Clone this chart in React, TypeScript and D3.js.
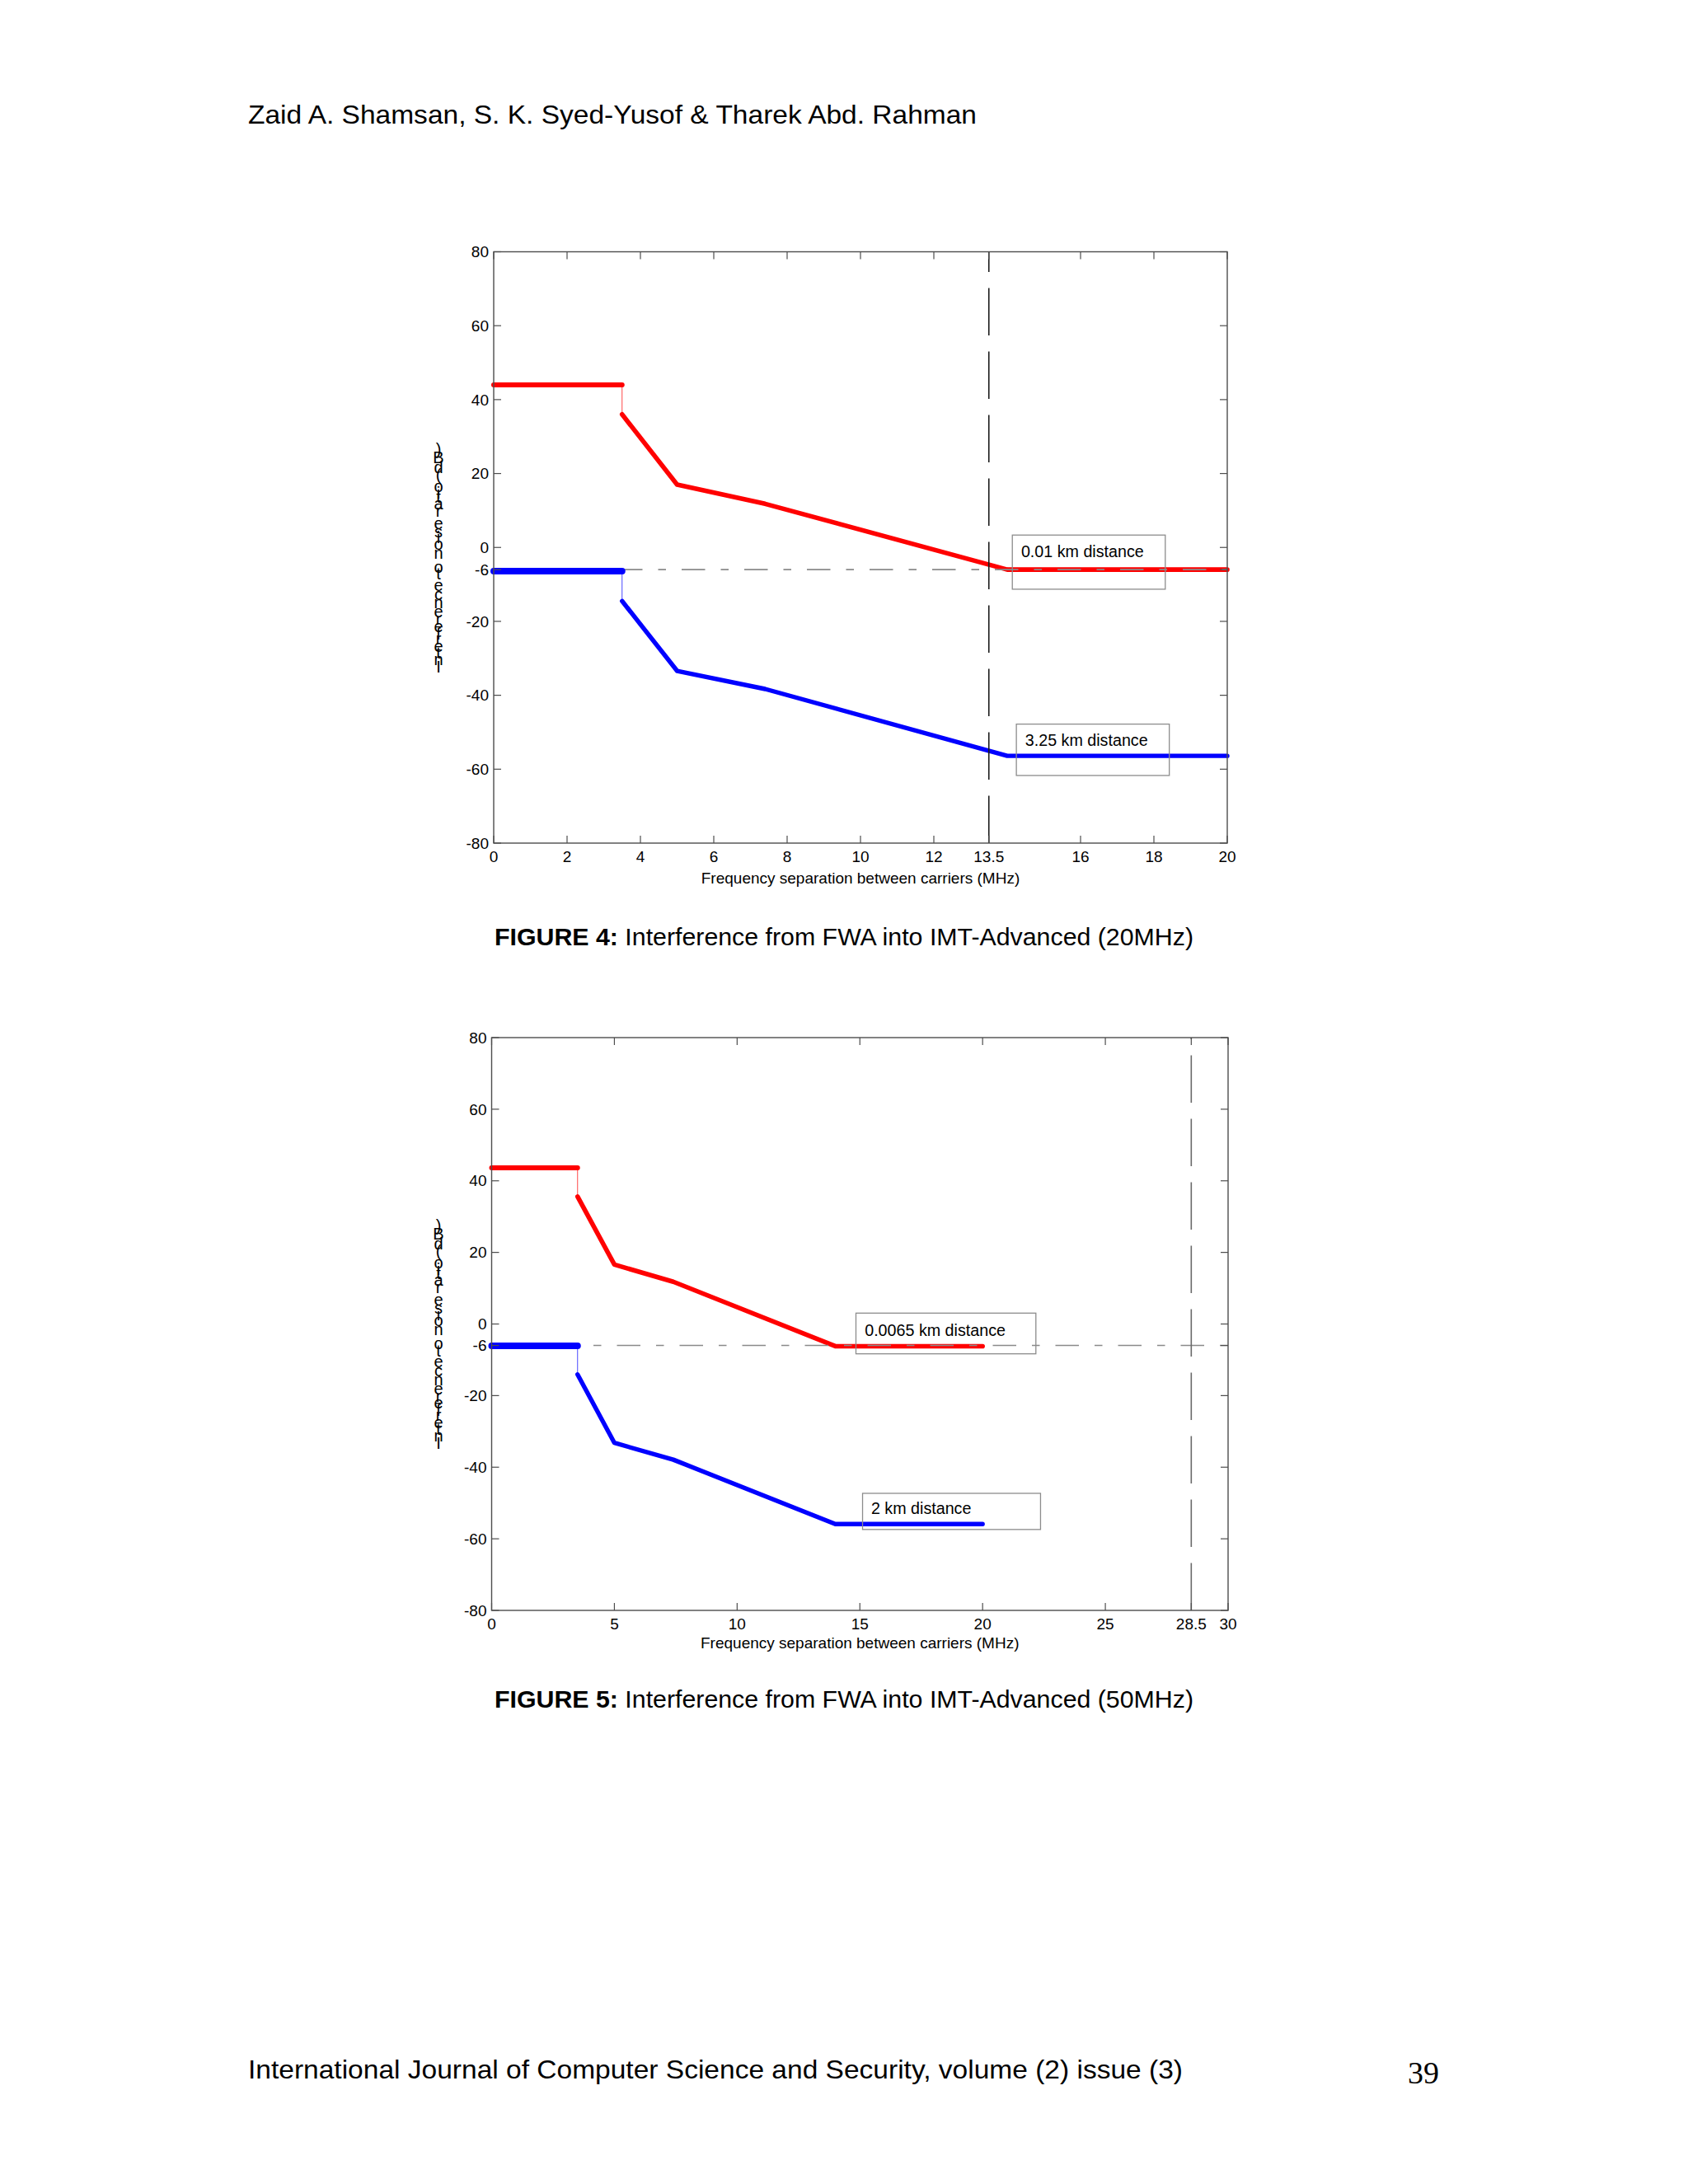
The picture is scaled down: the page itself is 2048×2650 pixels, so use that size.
import React, { useMemo } from 'react';
import * as d3 from 'd3';

const SANS = "'Liberation Sans', Arial, Helvetica, sans-serif";
const SERIF = "'Liberation Serif', 'Times New Roman', serif";

// ---- shared ----
const yTicks = [-80, -60, -40, -20, -6, 0, 20, 40, 60, 80];
const threshold = -6;
const yLabelText = 'Interference to noise ratio (dB)';
const xLabelText = 'Frequency separation between carriers (MHz)';

// ---- Figure 4 (20 MHz) ----
const fig4XTicks = [0, 2, 4, 6, 8, 10, 12, 13.5, 16, 18, 20];
const fig4StepX = [0, 3.5];
const fig4RedStep = [44, 44];
const fig4BlueStep = [-6.4, -6.4];
const fig4SlopeX = [3.5, 5, 7.4, 14, 20];
const fig4RedSlope = [36, 17, 11.8, -6, -6];
const fig4BlueSlope = [-14.5, -33.4, -38.3, -56.4, -56.4];
const fig4Limit = 13.5;
const fig4Labels = ['0.01 km distance', '3.25 km distance'];

// ---- Figure 5 (50 MHz) ----
const fig5XTicks = [0, 5, 10, 15, 20, 25, 28.5, 30];
const fig5StepX = [0, 3.5];
const fig5RedStep = [43.6, 43.6];
const fig5BlueStep = [-6.1, -6.1];
const fig5SlopeX = [3.5, 5, 7.4, 14, 20];
const fig5RedSlope = [35.6, 16.6, 11.8, -6.2, -6.2];
const fig5BlueSlope = [-14.1, -33.2, -37.9, -55.9, -55.9];
const fig5Limit = 28.5;
const fig5Labels = ['0.0065 km distance', '2 km distance'];

type BoxSpec = { text: string; x0: number; x1: number; yTop: number; yBot: number; tx: number; ty: number };

const RED = '#ff0000';
const BLUE = '#0000ff';

function measureChars(str: string, font: string): number[] {
  const ctx = document.createElement('canvas').getContext('2d');
  if (!ctx) return str.split('').map(() => 10);
  ctx.font = font;
  return str.split('').map((ch) => ctx.measureText(ch).width);
}

// The original y-label is rendered as stacked upright glyphs (a garbled rotated label);
// draw it as one text element with per-glyph positions.
function GarbledLabel({ x, cy, text, size }: { x: number; cy: number; text: string; size: number }) {
  const widths = useMemo(() => measureChars(text, `${size}px 'Liberation Sans'`), [text, size]);
  const total = widths.reduce((a, b) => a + b, 0);
  const yBottom = cy + total / 2;
  const xs: number[] = [];
  const ys: number[] = [];
  let cum = 0;
  text.split('').forEach((_, i) => {
    const w = widths[i];
    xs.push(x);
    ys.push(yBottom - cum - w / 2 + size * 0.35);
    cum += w;
  });
  return (
    <text x={xs.join(' ')} y={ys.map((v) => v.toFixed(2)).join(' ')} textAnchor="middle" fontFamily={SANS}
      fontSize={size} fill="#000" style={{ whiteSpace: 'pre' }}>
      {text}
    </text>
  );
}

type ChartProps = {
  left: number; right: number; top: number; bottom: number;
  xMax: number; xTicks: number[];
  stepX: number[]; redStep: number[]; blueStep: number[];
  slopeX: number[]; redSlope: number[]; blueSlope: number[];
  limitX: number; limitColor: string;
  boxes: BoxSpec[];
  titleGap: number;
};

function Chart(p: ChartProps) {
  const x = d3.scaleLinear().domain([0, p.xMax]).range([p.left, p.right]);
  const y = d3.scaleLinear().domain([-80, 80]).range([p.bottom, p.top]);
  const line = d3.line<[number, number]>().x((d) => x(d[0])).y((d) => y(d[1]));
  const zip = (xs: number[], ys: number[]) => xs.map((v, i) => [v, ys[i]] as [number, number]);

  const redStepD = line(zip(p.stepX, p.redStep)) || '';
  const redSlopeD = line(zip(p.slopeX, p.redSlope)) || '';
  const blueStepD = line(zip(p.stepX, p.blueStep)) || '';
  const blueSlopeD = line(zip(p.slopeX, p.blueSlope)) || '';
  const redConn = line([[p.stepX[1], p.redStep[1]], [p.slopeX[0], p.redSlope[0]]]) || '';
  const blueConn = line([[p.stepX[1], p.blueStep[1]], [p.slopeX[0], p.blueSlope[0]]]) || '';
  const tickLen = 9;
  const axisColor = '#4d4d4d';
  const cx = (p.left + p.right) / 2;

  return (
    <g>
      <rect x={p.left} y={p.top} width={p.right - p.left} height={p.bottom - p.top} fill="#fff" />
      {/* red */}
      <path d={redConn} stroke="#ff4a4a" strokeWidth={1} fill="none" />
      <path d={redStepD} stroke={RED} strokeWidth={6} fill="none" strokeLinecap="round" strokeLinejoin="round" />
      <path d={redSlopeD} stroke={RED} strokeWidth={5.6} fill="none" strokeLinecap="round" strokeLinejoin="round" />
      {/* threshold dash-dot */}
      <line x1={x(0)} x2={x(p.xMax)} y1={y(threshold)} y2={y(threshold)} stroke="#8a8a8a" strokeWidth={1.6}
        strokeDasharray="28.5 19 9.5 19" />
      {/* blue */}
      <path d={blueConn} stroke="#4a4aff" strokeWidth={1} fill="none" />
      <path d={blueStepD} stroke={BLUE} strokeWidth={8} fill="none" strokeLinecap="round" strokeLinejoin="round" />
      <path d={blueSlopeD} stroke={BLUE} strokeWidth={5.4} fill="none" strokeLinecap="round" strokeLinejoin="round" />
      {/* limit vertical dashed line, pattern from bottom */}
      <line x1={x(p.limitX)} x2={x(p.limitX)} y1={p.bottom} y2={p.top} stroke={p.limitColor} strokeWidth={1.6}
        strokeDasharray="57.5 19.5" />
      {/* label boxes */}
      {p.boxes.map((b, i) => (
        <g key={i}>
          <rect x={x(b.x0)} y={y(b.yTop)} width={x(b.x1) - x(b.x0)} height={y(b.yBot) - y(b.yTop)}
            fill="none" stroke="#8c8c8c" strokeWidth={1.3} />
          <text x={x(b.tx)} y={y(b.ty)} fontFamily={SANS} fontSize={19.7} fill="#000">{b.text}</text>
        </g>
      ))}
      {/* axes box */}
      <rect x={p.left} y={p.top} width={p.right - p.left} height={p.bottom - p.top} fill="none"
        stroke={axisColor} strokeWidth={1.4} />
      {p.xTicks.map((t) => (
        <g key={'x' + t}>
          <line x1={x(t)} x2={x(t)} y1={p.bottom} y2={p.bottom - tickLen} stroke={axisColor} strokeWidth={1.2} />
          <line x1={x(t)} x2={x(t)} y1={p.top} y2={p.top + tickLen} stroke={axisColor} strokeWidth={1.2} />
          <text x={x(t)} y={p.bottom + 23} textAnchor="middle" fontFamily={SANS} fontSize={19} fill="#000">{String(t)}</text>
        </g>
      ))}
      {yTicks.map((t) => (
        <g key={'y' + t}>
          <line x1={p.left} x2={p.left + tickLen} y1={y(t)} y2={y(t)} stroke={axisColor} strokeWidth={1.2} />
          <line x1={p.right} x2={p.right - tickLen} y1={y(t)} y2={y(t)} stroke={axisColor} strokeWidth={1.2} />
          <text x={p.left - 6} y={y(t)} dy="0.35em" textAnchor="end" fontFamily={SANS} fontSize={19} fill="#000">{String(t)}</text>
        </g>
      ))}
      <text x={cx} y={p.bottom + p.titleGap} textAnchor="middle" fontFamily={SANS} fontSize={19} fill="#000">{xLabelText}</text>
      <GarbledLabel x={532} cy={(p.top + p.bottom) / 2 + 12} text={yLabelText} size={20} />
    </g>
  );
}

export default function App() {
  const fig4Boxes: BoxSpec[] = [
    { text: fig4Labels[0], x0: 14.14, x1: 18.31, yTop: 3.35, yBot: -11.3, tx: 14.38, ty: -2.6 },
    { text: fig4Labels[1], x0: 14.25, x1: 18.42, yTop: -47.8, yBot: -61.7, tx: 14.49, ty: -53.7 },
  ];
  const fig5Boxes: BoxSpec[] = [
    { text: fig5Labels[0], x0: 14.84, x1: 22.17, yTop: 3.04, yBot: -8.33, tx: 15.2, ty: -3.34 },
    { text: fig5Labels[1], x0: 15.11, x1: 22.36, yTop: -47.3, yBot: -57.4, tx: 15.46, ty: -53.1 },
  ];
  return (
    <svg width={2048} height={2650} style={{ position: 'absolute', left: 0, top: 0, background: '#fff' }}
      xmlns="http://www.w3.org/2000/svg">
      <rect x={0} y={0} width={2048} height={2650} fill="#fff" />
      <text x={301} y={150} fontFamily={SANS} fontSize={32} fill="#000" textLength={884} lengthAdjust="spacingAndGlyphs">
        Zaid A. Shamsan, S. K. Syed-Yusof &amp; Tharek Abd. Rahman
      </text>

      <Chart left={599} right={1489} top={305.5} bottom={1023} xMax={20} xTicks={fig4XTicks}
        stepX={fig4StepX} redStep={fig4RedStep} blueStep={fig4BlueStep}
        slopeX={fig4SlopeX} redSlope={fig4RedSlope} blueSlope={fig4BlueSlope}
        limitX={fig4Limit} limitColor="#1a1a1a" boxes={fig4Boxes} titleGap={49} />
      <text x={600} y={1147} fontFamily={SANS} fontSize={30} fill="#000" textLength={848} lengthAdjust="spacingAndGlyphs">
        <tspan fontWeight="bold">FIGURE 4:</tspan> Interference from FWA into IMT-Advanced (20MHz)
      </text>

      <Chart left={596.5} right={1490} top={1259} bottom={1954} xMax={30} xTicks={fig5XTicks}
        stepX={fig5StepX} redStep={fig5RedStep} blueStep={fig5BlueStep}
        slopeX={fig5SlopeX} redSlope={fig5RedSlope} blueSlope={fig5BlueSlope}
        limitX={fig5Limit} limitColor="#6a6a6a" boxes={fig5Boxes} titleGap={46} />
      <text x={600} y={2072} fontFamily={SANS} fontSize={30} fill="#000" textLength={848} lengthAdjust="spacingAndGlyphs">
        <tspan fontWeight="bold">FIGURE 5:</tspan> Interference from FWA into IMT-Advanced (50MHz)
      </text>

      <text x={301} y={2522} fontFamily={SANS} fontSize={30.5} fill="#000" textLength={1134} lengthAdjust="spacingAndGlyphs">
        International Journal of Computer Science and Security, volume (2) issue (3)
      </text>
      <text x={1708} y={2528} fontFamily={SERIF} fontSize={38} fill="#000">39</text>
    </svg>
  );
}
